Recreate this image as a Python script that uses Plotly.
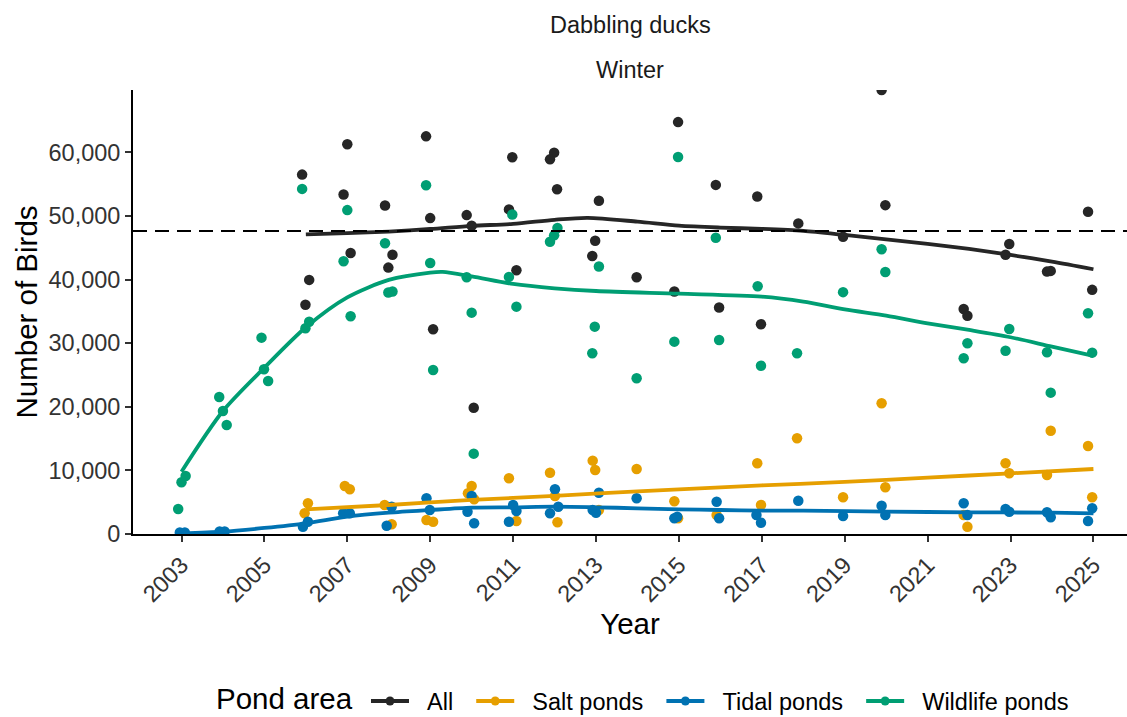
import plotly.graph_objects as go

# ---- survey counts (jittered survey year, number of birds) ----
all_x = [2005.91, 2006.08, 2005.99, 2007.00, 2006.91, 2007.08, 2007.91, 2008.09, 2007.99,
         2008.90, 2009.00, 2009.07, 2009.88, 2010.00, 2010.05, 2010.98, 2010.90, 2011.08,
         2011.99, 2011.89, 2012.06, 2013.07, 2012.98, 2012.91, 2013.98, 2014.98, 2014.89,
         2015.89, 2015.97, 2016.89, 2016.98, 2017.88, 2018.96, 2019.89, 2019.98, 2021.87,
         2021.96, 2022.97, 2022.88, 2023.88, 2023.97, 2024.87, 2024.97]
all_y = [56500, 39950, 36030, 61260, 53380, 44180, 51650, 43910, 41880,
         62510, 49660, 32190, 50130, 48460, 19860, 59220, 51030, 41470,
         59950, 58900, 54200, 52380, 46110, 43710, 40370, 64750, 38120,
         54880, 35610, 53070, 32970, 48830, 46740, 69800, 51700, 35380,
         34320, 45590, 43910, 41250, 41360, 50650, 38380]

salt_x = [2006.05, 2005.97, 2006.94, 2007.06, 2007.90, 2008.07, 2008.91, 2009.07,
          2010.00, 2009.91, 2010.06, 2010.90, 2011.08, 2011.89, 2012.01, 2012.07,
          2012.92, 2012.98, 2013.07, 2013.98, 2014.89, 2014.98, 2015.91, 2016.89,
          2016.98, 2017.85, 2018.96, 2019.89, 2019.98, 2021.87, 2021.96, 2022.88,
          2022.97, 2023.88, 2023.97, 2024.87, 2024.97]
salt_y = [4830, 3250, 7550, 7030, 4560, 1520, 2200, 1930,
          7550, 6400, 5450, 8760, 2040, 9640, 5970, 1840,
          11530, 10060, 3770, 10220, 5140, 2470, 2990, 11110,
          4560, 15050, 5770, 20550, 7340, 2990, 1150, 11110,
          9540, 9280, 16240, 13840, 5770]

tidal_x = [2002.96, 2003.08, 2003.92, 2004.04, 2005.93, 2006.05, 2006.90, 2007.06,
           2008.07, 2007.95, 2008.91, 2008.99, 2010.00, 2009.90, 2010.06, 2011.00,
           2011.08, 2010.90, 2012.01, 2012.09, 2011.89, 2013.07, 2012.92, 2013.00,
           2013.98, 2014.89, 2014.96, 2015.91, 2015.97, 2016.87, 2016.98, 2017.88,
           2018.96, 2019.89, 2019.98, 2021.87, 2021.96, 2022.88, 2022.97, 2023.88,
           2023.97, 2024.87, 2024.97]
tidal_y = [250, 250, 400, 400, 1150, 1930, 3250, 3250,
           4290, 1310, 5610, 3770, 5970, 3510, 1680, 4560,
           3620, 1930, 7030, 4290, 3250, 6490, 3770, 3350,
           5610, 2470, 2720, 5080, 2470, 2990, 1780, 5240,
           2830, 4450, 2990, 4830, 2990, 3930, 3510, 3410,
           2630, 2040, 4040]

wild_x = [2002.92, 2003.00, 2003.10, 2003.91, 2004.00, 2004.09, 2004.93, 2004.99, 2005.09,
          2005.91, 2006.08, 2005.99, 2007.00, 2006.91, 2007.08, 2007.91, 2008.09, 2007.99,
          2008.90, 2009.00, 2009.07, 2009.88, 2010.00, 2010.05, 2010.98, 2010.90, 2011.08,
          2012.07, 2011.99, 2011.89, 2013.07, 2012.97, 2012.91, 2013.98, 2014.98, 2014.89,
          2015.89, 2015.97, 2016.90, 2016.98, 2017.85, 2018.96, 2019.89, 2019.98, 2021.96,
          2021.87, 2022.97, 2022.88, 2023.88, 2023.97, 2024.87, 2024.97]
wild_y = [3930, 8130, 9120, 21540, 19340, 17140, 30870, 25900, 24060,
          54250, 33380, 32340, 50920, 42880, 34230, 45700, 38120, 37960,
          54830, 42610, 25790, 40370, 34800, 12630, 50240, 40420, 35740,
          48100, 46950, 45950, 42040, 32600, 28410, 24480, 59270, 30240,
          46580, 30500, 38960, 26460, 28410, 38020, 44760, 41200, 29980,
          27620, 32230, 28820, 28570, 22220, 34700, 28510]

# ---- smoothed trends (fitted value by year) ----
all_fit_x = [2006, 2007, 2008, 2009, 2010, 2011, 2012, 2012.8, 2014, 2015, 2016, 2017,
             2018, 2019, 2020, 2021, 2022, 2023, 2024, 2025]
all_fit_y = [47100, 47300, 47550, 47950, 48450, 48750, 49400, 49700, 49100, 48480, 48170,
             47960, 47640, 47010, 46330, 45600, 44810, 43870, 42820, 41620]

salt_fit_x = [2006, 2008, 2010, 2012, 2014, 2017, 2019, 2021, 2023, 2025]
salt_fit_y = [3880, 4560, 5350, 6000, 6700, 7650, 8180, 8860, 9540, 10220]

tidal_fit_x = [2003, 2004, 2005, 2006, 2007, 2008, 2009, 2010, 2011, 2012, 2013, 2014,
               2015, 2016, 2017, 2018, 2020, 2022, 2024, 2025]
tidal_fit_y = [100, 360, 950, 1680, 2720, 3350, 3770, 4140, 4200, 4290, 4200, 4040,
               3880, 3770, 3660, 3660, 3510, 3410, 3350, 3250]

wild_fit_x = [2003, 2004, 2005, 2006, 2007, 2008, 2009, 2009.3, 2010, 2011, 2012, 2013,
              2015, 2017, 2018, 2019, 2020, 2021, 2022, 2023, 2024, 2025]
wild_fit_y = [9800, 19340, 26150, 32500, 37200, 39940, 41090, 41200, 40500, 39310, 38630,
              38200, 37780, 37310, 36530, 35300, 34330, 33130, 32080, 30930, 29450, 27990]

long_term_mean = 47640

year_ticks = list(range(2003, 2026, 2))
y_ticks = [0, 10000, 20000, 30000, 40000, 50000, 60000]

series = [
    ("All", "#262626", all_x, all_y, all_fit_x, all_fit_y),
    ("Salt ponds", "#E69F00", salt_x, salt_y, salt_fit_x, salt_fit_y),
    ("Tidal ponds", "#0072B2", tidal_x, tidal_y, tidal_fit_x, tidal_fit_y),
    ("Wildlife ponds", "#009E73", wild_x, wild_y, wild_fit_x, wild_fit_y),
]

FONT = "Arial, 'Liberation Sans', sans-serif"
NBSP = "\u00a0"
fig = go.Figure()

# points
for name, color, px, py, fx, fy in series:
    fig.add_trace(go.Scatter(x=px, y=py, mode="markers", name=name, showlegend=False,
                             marker=dict(color=color, size=10.5, line=dict(width=0))))

# trend lines
for name, color, px, py, fx, fy in series:
    fig.add_trace(go.Scatter(x=fx, y=fy, mode="lines", name=name, showlegend=False,
                             line=dict(color=color, width=3.8, shape="spline", smoothing=0.8)))

# legend keys (line + point)
for name, color, px, py, fx, fy in series:
    fig.add_trace(go.Scatter(x=[None], y=[None], mode="lines+markers",
                             name=NBSP * 2 + name + NBSP * 2,
                             line=dict(color=color, width=3.8),
                             marker=dict(color=color, size=9)))

# long-term mean reference line
fig.add_shape(type="line", xref="paper", x0=0, x1=1, yref="y", y0=long_term_mean,
              y1=long_term_mean, line=dict(color="black", width=2, dash="14px,8px"))

# facet strip labels
fig.add_annotation(text="Dabbling ducks", xref="paper", yref="paper", x=0.5, y=1.1464,
                   showarrow=False, font=dict(size=23.5, color="#1a1a1a", family=FONT),
                   yanchor="middle")
fig.add_annotation(text="Winter", xref="paper", yref="paper", x=0.5, y=1.045,
                   showarrow=False, font=dict(size=23.5, color="#1a1a1a", family=FONT),
                   yanchor="middle")

# legend heading, set on the same row as the legend keys
fig.add_annotation(text="Pond area", xref="paper", yref="paper", x=0.0815, y=-0.3716,
                   xanchor="left", yanchor="middle", showarrow=False,
                   font=dict(size=29.5, color="black", family=FONT))

axis_common = dict(ticks="outside", ticklen=6, tickwidth=1.5, tickcolor="#333333",
                   showline=True, linecolor="black", linewidth=1.8, showgrid=False,
                   zeroline=False, automargin=False,
                   tickfont=dict(size=23.5, color="#333333", family=FONT))

fig.update_layout(
    template="none",
    width=1127, height=717,
    margin=dict(l=133, r=0, t=90, b=183),
    plot_bgcolor="white", paper_bgcolor="white",
    font=dict(family=FONT, color="black"),
    xaxis=dict(range=[2001.83, 2025.81], tickvals=year_ticks, tickangle=-45,
               title=dict(text="Year", font=dict(size=29.5, color="black"), standoff=3),
               **axis_common),
    yaxis=dict(range=[0, 69800], tickvals=y_ticks, tickformat=",d",
               title=dict(text="Number of Birds", font=dict(size=29.5, color="black"), standoff=2),
               **axis_common),
    legend=dict(orientation="h", x=0.2344, xanchor="left", xref="paper",
                y=0.022, yanchor="middle", yref="container",
                font=dict(size=23.5), itemwidth=38, bgcolor="rgba(0,0,0,0)"),
)

fig.write_html("out.html")
